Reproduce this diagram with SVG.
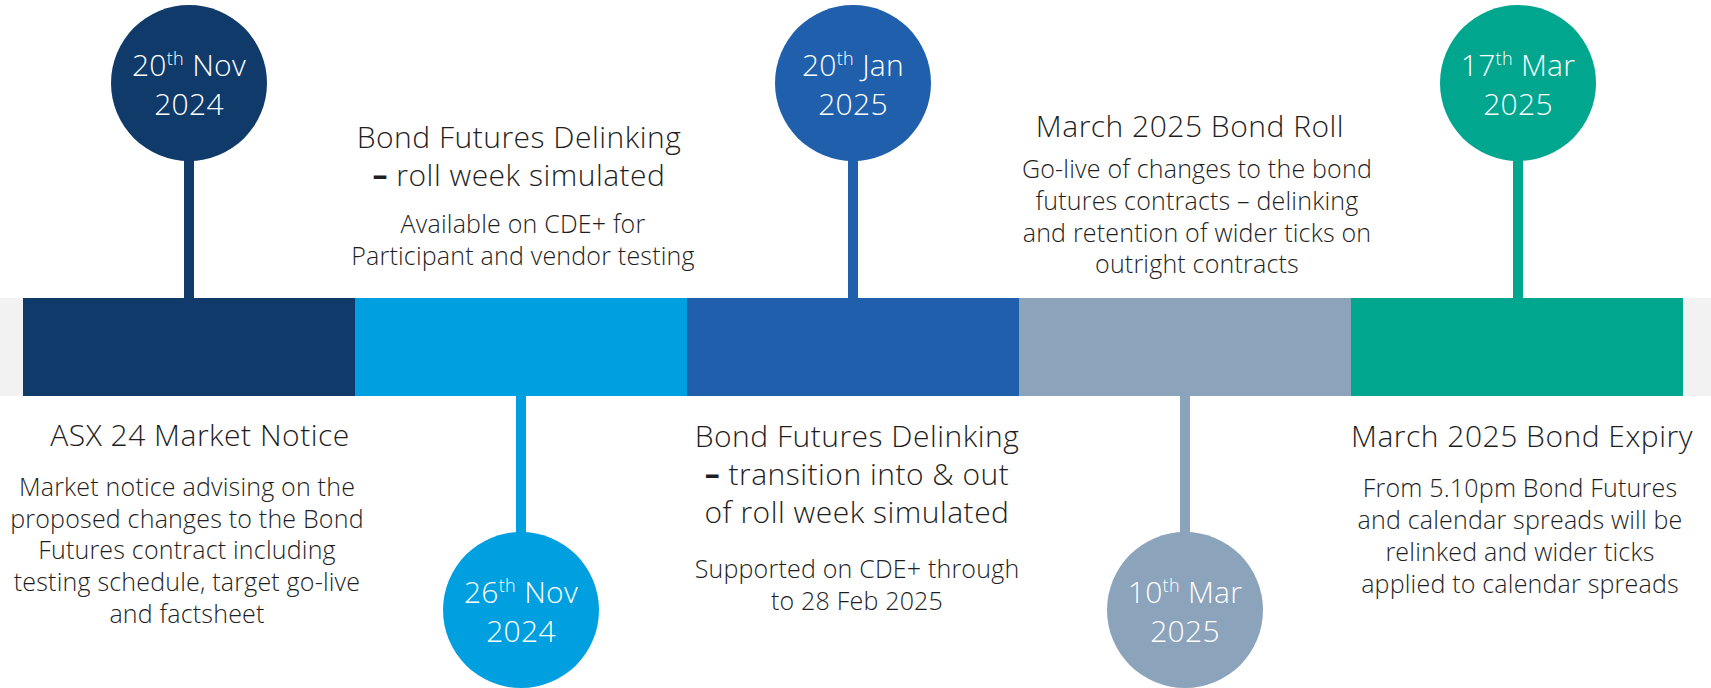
<svg xmlns="http://www.w3.org/2000/svg" width="1711" height="688" viewBox="0 0 1711 688">
<style>
  text { font-family: "Open Sans", "Lato", "Liberation Sans", sans-serif; font-weight: 300; text-anchor: middle; fill: #1e1e1e; }
  .h { font-size: 30px; letter-spacing: 0.5px; }
  .b { font-size: 25px; letter-spacing: 0.2px; }
  .d { font-size: 30px; fill: #ffffff; letter-spacing: 0.3px; }
  .sup { font-size: 18px; }
  .dash { font-weight: 700; }
  .c1 { fill: #0F3A6A; } .c2 { fill: #009FDF; } .c3 { fill: #1F5FAC; } .c4 { fill: #8BA3BB; } .c5 { fill: #00A68E; }
</style>
<rect x="0" y="0" width="1711" height="688" fill="#ffffff"/>
<g id="timeline">
  <rect x="0" y="298" width="1711" height="98" fill="#F2F2F2"/>
  <rect class="c1" x="23" y="298" width="333" height="98"/>
  <rect class="c2" x="355" y="298" width="333" height="98"/>
  <rect class="c3" x="687" y="298" width="333" height="98"/>
  <rect class="c4" x="1019" y="298" width="333" height="98"/>
  <rect class="c5" x="1351" y="298" width="332" height="98"/>
</g>
<g id="connectors">
  <rect class="c1" x="184" y="150" width="10" height="150"/>
  <rect class="c2" x="516" y="394" width="10" height="150"/>
  <rect class="c3" x="848" y="150" width="10" height="150"/>
  <rect class="c4" x="1180" y="394" width="10" height="150"/>
  <rect class="c5" x="1513" y="150" width="10" height="150"/>
</g>
<g id="m1">
  <circle class="c1" cx="189" cy="83" r="78"/>
  <text class="d" x="189" y="76">20<tspan class="sup" dy="-11">th</tspan><tspan dy="11"> Nov</tspan></text>
  <text class="d" x="189" y="115">2024</text>
  <text class="h" x="200" y="446">ASX 24 Market Notice</text>
  <text class="b" x="187" y="496">Market notice advising on the</text>
  <text class="b" x="187" y="528">proposed changes to the Bond</text>
  <text class="b" x="187" y="559">Futures contract including</text>
  <text class="b" x="187" y="591">testing schedule, target go-live</text>
  <text class="b" x="187" y="623">and factsheet</text>
</g>
<g id="m2">
  <circle class="c2" cx="521" cy="610" r="78"/>
  <text class="d" x="521" y="603">26<tspan class="sup" dy="-11">th</tspan><tspan dy="11"> Nov</tspan></text>
  <text class="d" x="521" y="642">2024</text>
  <text class="h" x="519" y="148">Bond Futures Delinking</text>
  <text class="h" x="519" y="186"><tspan class="dash">–</tspan> roll week simulated</text>
  <text class="b" x="523" y="233">Available on CDE+ for</text>
  <text class="b" x="523" y="265">Participant and vendor testing</text>
</g>
<g id="m3">
  <circle class="c3" cx="853" cy="83" r="78"/>
  <text class="d" x="853" y="76">20<tspan class="sup" dy="-11">th</tspan><tspan dy="11"> Jan</tspan></text>
  <text class="d" x="853" y="115">2025</text>
  <text class="h" x="857" y="447">Bond Futures Delinking</text>
  <text class="h" x="857" y="485"><tspan class="dash">–</tspan> transition into &amp; out</text>
  <text class="h" x="857" y="523">of roll week simulated</text>
  <text class="b" x="857" y="578">Supported on CDE+ through</text>
  <text class="b" x="857" y="610">to 28 Feb 2025</text>
</g>
<g id="m4">
  <circle class="c4" cx="1185" cy="610" r="78"/>
  <text class="d" x="1185" y="603">10<tspan class="sup" dy="-11">th</tspan><tspan dy="11"> Mar</tspan></text>
  <text class="d" x="1185" y="642">2025</text>
  <text class="h" x="1190" y="137">March 2025 Bond Roll</text>
  <text class="b" x="1197" y="178">Go-live of changes to the bond</text>
  <text class="b" x="1197" y="210">futures contracts – delinking</text>
  <text class="b" x="1197" y="242">and retention of wider ticks on</text>
  <text class="b" x="1197" y="273">outright contracts</text>
</g>
<g id="m5">
  <circle class="c5" cx="1518" cy="83" r="78"/>
  <text class="d" x="1518" y="76">17<tspan class="sup" dy="-11">th</tspan><tspan dy="11"> Mar</tspan></text>
  <text class="d" x="1518" y="115">2025</text>
  <text class="h" x="1522" y="447">March 2025 Bond Expiry</text>
  <text class="b" x="1520" y="497">From 5.10pm Bond Futures</text>
  <text class="b" x="1520" y="529">and calendar spreads will be</text>
  <text class="b" x="1520" y="561">relinked and wider ticks</text>
  <text class="b" x="1520" y="593">applied to calendar spreads</text>
</g>
</svg>
